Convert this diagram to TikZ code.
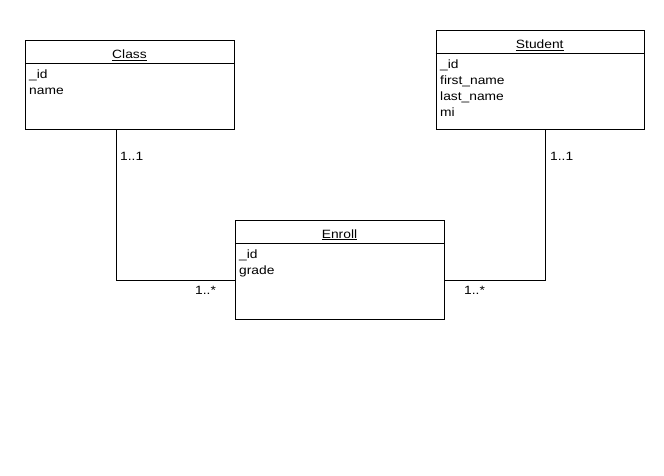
\documentclass[tikz,border=0pt]{standalone}
\usepackage{fontspec}
\setmainfont{Liberation Sans}[FakeStretch=1.15]
\begin{document}
\begin{tikzpicture}[x=1pt,y=-1pt,
  umlbox/.style={draw=black, line width=1pt, fill=white, rectangle, anchor=north west, inner sep=0pt},
  txt/.style={anchor=base west, inner sep=0pt, font=\fontsize{12}{16}\selectfont},
  ttl/.style={anchor=base, inner sep=0pt, font=\fontsize{12}{16}\selectfont},
  conn/.style={draw=black, line width=1pt}]
\useasboundingbox[fill=white] (0,0) rectangle (664,475);
% boxes
\node[umlbox, minimum width=209pt, minimum height=89.5pt] (class) at (25,39.5) {};
\node[umlbox, minimum width=208.5pt, minimum height=99pt] (student) at (435.5,30) {};
\node[umlbox, minimum width=209pt, minimum height=99pt] (enroll) at (235,220) {};
% header dividers
\draw[conn] (class.west |- 0,63) -- (class.east |- 0,63);
\draw[conn] (student.west |- 0,53) -- (student.east |- 0,53);
\draw[conn] (enroll.west |- 0,243) -- (enroll.east |- 0,243);
% titles
\node[ttl] (classT) at (129.5,58.5) {\underline{Class}};
\node[ttl] (studentT) at (539.75,48.5) {\underline{Student}};
\node[ttl] (enrollT) at (339.5,238) {\underline{Enroll}};
% attributes
\node[txt] (ca1) at (29,78) {\_id};
\node[txt] (ca2) at (29,94) {name};
\node[txt] (sa1) at (440,68) {\_id};
\node[txt] (sa2) at (440,84) {first\_name};
\node[txt] (sa3) at (440,100) {last\_name};
\node[txt] (sa4) at (440,116) {mi};
\node[txt] (ea1) at (239,258.5) {\_id};
\node[txt] (ea2) at (239,274.5) {grade};
% connectors
\coordinate (c1) at (116,129);
\coordinate (e1) at (235,280);
\coordinate (s1) at (545,129);
\coordinate (e2) at (444,280);
\draw[conn] (c1) |- (e1);
\draw[conn] (s1) |- (e2);
% multiplicities
\node[txt] (m1) at (120,160) {1..1};
\node[txt] (m2) at (550,160) {1..1};
\node[txt] (m3) at (195,294) {1..*};
\node[txt] (m4) at (464,294) {1..*};
\end{tikzpicture}
\end{document}
